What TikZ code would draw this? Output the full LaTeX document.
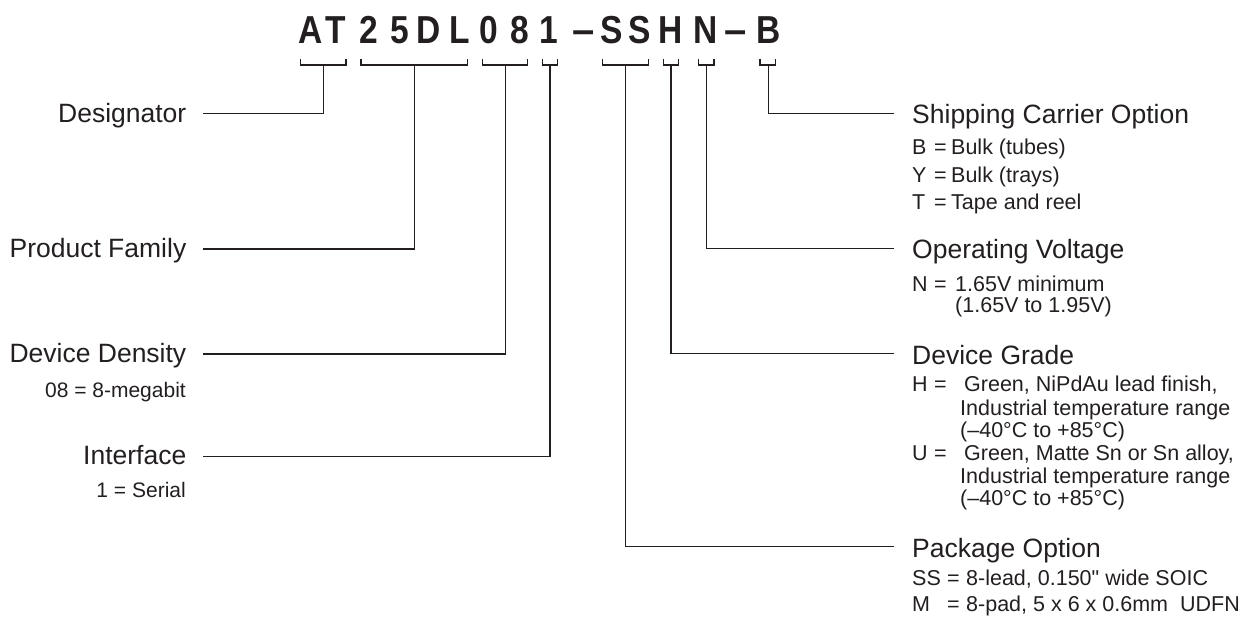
\documentclass[tikz,border=0pt]{standalone}
\usepackage{fontspec}
\setmainfont{Liberation Sans}[Ligatures=TeXOff]
\newfontfamily\titlefont{Liberation Sans}[FakeStretch=0.86, Ligatures=TeXOff]
\definecolor{ink}{HTML}{231F20}
\begin{document}
\begin{tikzpicture}[x=1pt,y=-1pt,
  titlech/.style={font=\fontsize{39}{40}\selectfont\titlefont\bfseries, text=ink, inner sep=0pt, anchor=base},
  titledash/.style={font=\fontsize{40}{40}\selectfont\bfseries, text=ink, inner sep=0pt, anchor=base},
  head/.style={font=\fontsize{26.5}{30}\selectfont, text=ink, inner sep=0pt},
  small/.style={font=\fontsize{21}{24}\selectfont, text=ink, inner sep=0pt},
  rsm/.style={font=\fontsize{21.5}{24}\selectfont, text=ink, inner sep=0pt},
  lbl/.style={head, anchor=base east},
  lblsmall/.style={small, anchor=base east},
  rhead/.style={head, anchor=base west},
  rsmall/.style={rsm, anchor=base west},
  brk/.style={draw=ink, line width=1.2pt},
  conn/.style={draw=ink, line width=1.2pt}]
\useasboundingbox (0,0) rectangle (1255,631);

% title characters
\foreach \c/\x/\n in {A/310.5/tA, T/335.3/tT, 2/369/t2, 5/400/t5, D/428.5/tD, L/460/tL,
  0/489/t0a, 8/519.5/t8, 1/548.5/t1, S/611.5/tS1, S/639.5/tS2, H/671/tH,
  N/705.5/tN, B/768.7/tB}
  \node[titlech] (\n) at (\x,43.3) {\c};
\node[titledash] (td1) at (584,43.3) {–};
\node[titledash] (td2) at (736,43.3) {–};

% brackets
\draw[brk] (300.7,59) -- (300.7,65) -- (346,65) -- (346,59);
\draw[brk] (361,59) -- (361,65) -- (467.3,65) -- (467.3,59);
\draw[brk] (482.3,59) -- (482.3,65) -- (527.7,65) -- (527.7,59);
\draw[brk] (542.7,59) -- (542.7,65) -- (557.7,65) -- (557.7,59);
\draw[brk] (602.7,59) -- (602.7,65) -- (648.7,65) -- (648.7,59);
\draw[brk] (663.3,59) -- (663.3,65) -- (678.7,65) -- (678.7,59);
\draw[brk] (698.3,59) -- (698.3,65) -- (714,65) -- (714,59);
\draw[brk] (760,59) -- (760,65) -- (775.7,65) -- (775.7,59);

\coordinate (sAT) at (323.3,65);
\coordinate (sFam) at (414.3,65);
\coordinate (sDen) at (505.3,65);
\coordinate (sInt) at (550,65);
\coordinate (sPkg) at (625.7,65);
\coordinate (sGrd) at (671,65);
\coordinate (sVol) at (706.7,65);
\coordinate (sShp) at (768.7,65);

% left line ends
\coordinate (eDes) at (202.5,113.3);
\coordinate (eFam) at (202.5,249);
\coordinate (eDen) at (202.5,354);
\coordinate (eInt) at (202.5,456.7);
% right line ends
\coordinate (eShp) at (893.5,113.3);
\coordinate (eVol) at (893.5,248.3);
\coordinate (eGrd) at (893.5,353.3);
\coordinate (ePkg) at (893.5,546.7);

\draw[conn] (sAT) |- (eDes);
\draw[conn] (sFam) |- (eFam);
\draw[conn] (sDen) |- (eDen);
\draw[conn] (sInt) |- (eInt);
\draw[conn] (sShp) |- (eShp);
\draw[conn] (sVol) |- (eVol);
\draw[conn] (sGrd) |- (eGrd);
\draw[conn] (sPkg) |- (ePkg);

% left labels
\node[lbl] (lDes) at (186.5,122.3) {Designator};
\node[lbl] (lFam) at (186.5,257.3) {Product Family};
\node[lbl] (lDen) at (186.5,362.3) {Device Density};
\node[lblsmall] (lDen1) at (186,397.5) {08 = 8-megabit};
\node[lbl] (lInt) at (186.5,464.8) {Interface};
\node[lblsmall] (lInt1) at (186,497.5) {1 = Serial};

% right: shipping carrier
\node[rhead] (rShp) at (912,124) {Shipping Carrier Option};
\node[rsmall] (rShp1) at (912,155) {\makebox[22pt][l]{B}\makebox[17pt][l]{=}Bulk (tubes)};
\node[rsmall] (rShp2) at (912,182.5) {\makebox[22pt][l]{Y}\makebox[17pt][l]{=}Bulk (trays)};
\node[rsmall] (rShp3) at (912,209) {\makebox[22pt][l]{T}\makebox[17pt][l]{=}Tape and reel};

% operating voltage
\node[rhead] (rVol) at (912,258) {Operating Voltage};
\node[rsmall] (rVol1) at (912,291.5) {\makebox[22pt][l]{N}\makebox[21pt][l]{=}1.65V minimum};
\node[rsmall] (rVol2) at (912,312) {\hspace*{43pt}(1.65V to 1.95V)};

% device grade
\node[rhead] (rGrd) at (912,364) {Device Grade};
\node[rsmall] (rGrd1) at (912,391.5) {\makebox[22pt][l]{H}\makebox[30pt][l]{=}Green, NiPdAu lead finish,};
\node[rsmall] (rGrd2) at (912,415) {\hspace*{48pt}Industrial temperature range};
\node[rsmall] (rGrd3) at (912,437.5) {\hspace*{48pt}(–40°C to +85°C)};
\node[rsmall] (rGrd4) at (912,460) {\makebox[22pt][l]{U}\makebox[30pt][l]{=}Green, Matte Sn or Sn alloy,};
\node[rsmall] (rGrd5) at (912,483) {\hspace*{48pt}Industrial temperature range};
\node[rsmall] (rGrd6) at (912,505.5) {\hspace*{48pt}(–40°C to +85°C)};

% package option
\node[rhead] (rPkg) at (912,557) {Package Option};
\node[rsmall] (rPkg1) at (912,585) {\makebox[35pt][l]{SS}\makebox[19pt][l]{=}8-lead, 0.150" wide SOIC};
\node[rsmall] (rPkg2) at (912,611.5) {\makebox[35pt][l]{M}\makebox[19pt][l]{=}8-pad, 5 x 6 x 0.6mm\ \ UDFN};
\end{tikzpicture}
\end{document}
